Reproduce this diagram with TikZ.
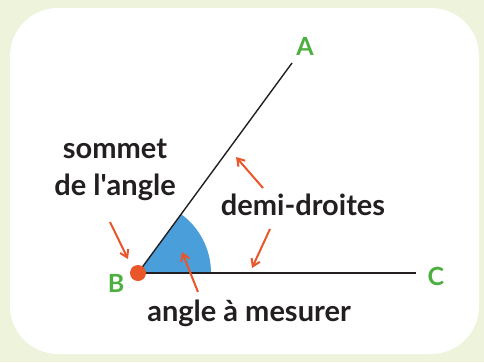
\documentclass[tikz,border=0pt]{standalone}
\usepackage{fontspec}
\setmainfont{Lato}
\usepackage{xcolor}
\usetikzlibrary{arrows.meta,positioning,calc}

\definecolor{bggreen}{HTML}{EEF4DC}
\definecolor{ptgreen}{HTML}{4DAF3F}
\definecolor{arrorange}{HTML}{E8562A}
\definecolor{sectblue}{HTML}{4A9EDA}
\definecolor{inkdark}{HTML}{231F20}

\begin{document}
\begin{tikzpicture}[
    x=1pt, y=-1pt,
    lbl/.style={inner sep=0pt, align=center, text=inkdark, font=\bfseries\fontsize{29}{37}\selectfont},
    pt/.style={inner sep=0pt, text=ptgreen, font=\bfseries\fontsize{25}{25}\selectfont},
    ray/.style={line width=1.4pt, draw=inkdark},
    arr/.style={-{Straight Barb[length=7pt,width=9pt]}, line width=2pt, draw=arrorange}
]
    \useasboundingbox (0,0) rectangle (484,362);
    \fill [bggreen] (0,0) rectangle (484,362);
    \fill [white, rounded corners=48pt] (10,8) rectangle (479,354);

    \coordinate (B) at (138,273);
    \coordinate (A) at (292,63);
    \coordinate (C) at (416,273);

    % angle sector
    \fill [sectblue] (B) -- ++(73,0) arc [start angle=0, end angle=53.7, radius=73pt] -- cycle;

    \draw [ray] (B) -- (A);
    \draw [ray] (B) -- (C);
    \fill [arrorange] (B) circle [radius=8pt];

    \node [pt] (la) at (305,46) {A};
    \node [pt] (lb) at (116,283) {B};
    \node [pt] (lc) at (436,276) {C};

    \node [lbl] (sommet) at (115,170) {sommet\\de l\textquotesingle angle};
    \node [lbl] (demi) at (303,205) {demi-droites};
    \node [lbl] (mesure) at (249,313) {angle à mesurer};

    \coordinate (s1) at (110,222);
    \coordinate (s2) at (128,259);
    \coordinate (m1) at (198,292);
    \coordinate (m2) at (182,252);
    \coordinate (d1) at (263,188);
    \coordinate (d2) at (236,157);
    \coordinate (d3) at (270,229);
    \coordinate (d4) at (252,268);

    \draw [arr] (s1) -- (s2);
    \draw [arr] (m1) -- (m2);
    \draw [arr] (d1) -- (d2);
    \draw [arr] (d3) -- (d4);
\end{tikzpicture}
\end{document}
